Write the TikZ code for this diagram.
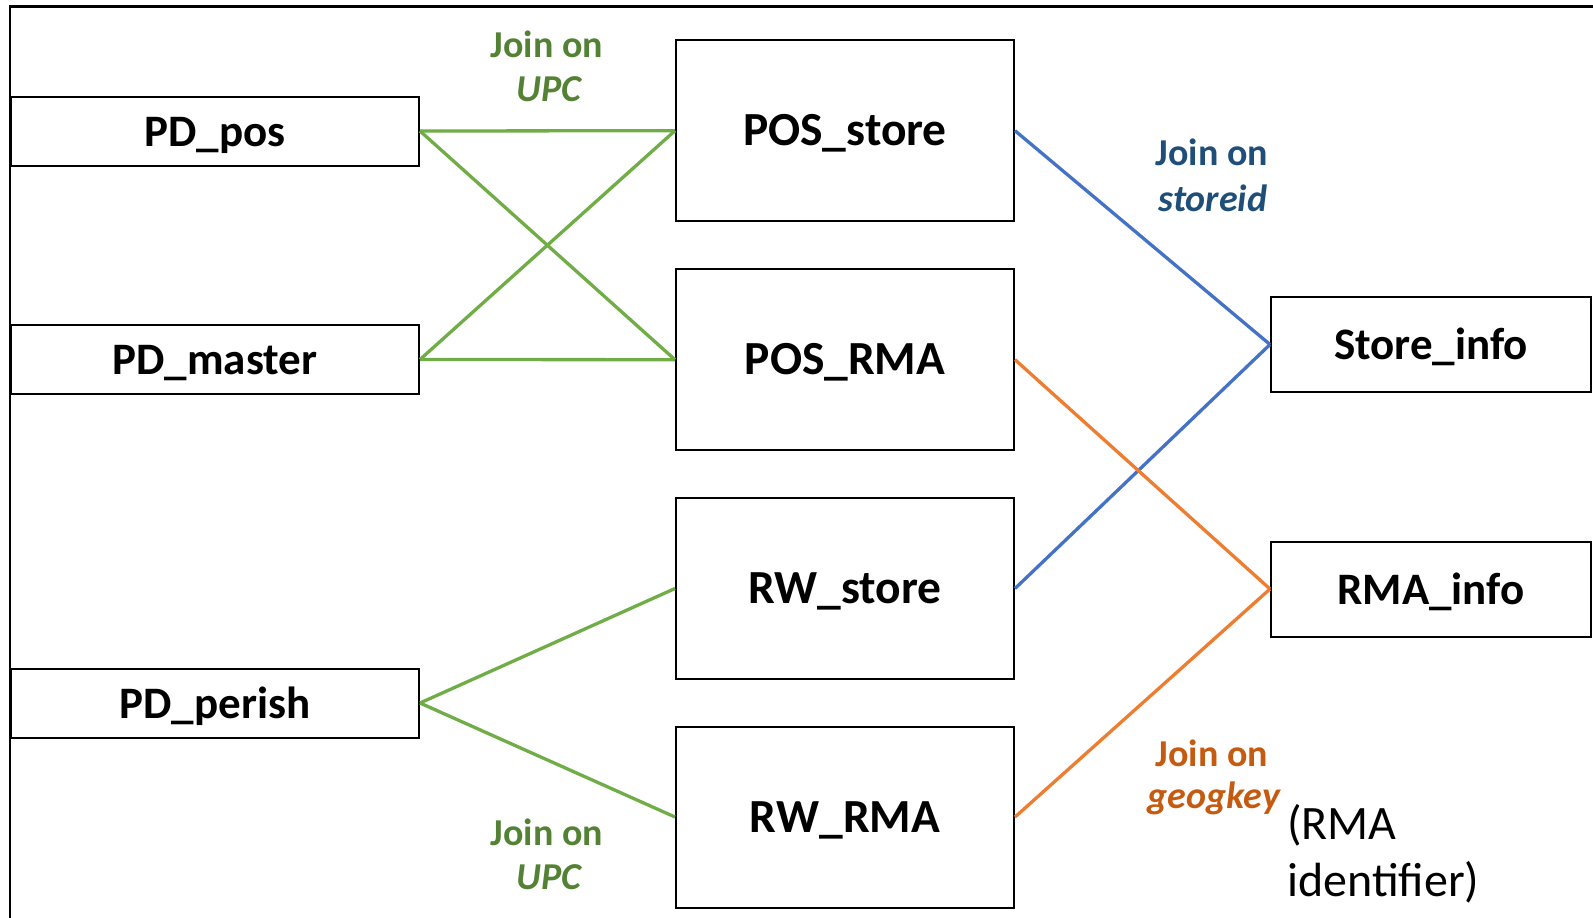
\documentclass[tikz,border=0pt]{standalone}
\usepackage{fontspec}
\setmainfont{Carlito}
\definecolor{gline}{HTML}{70AD47}
\definecolor{gtext}{HTML}{548235}
\definecolor{bline}{HTML}{4472C4}
\definecolor{btext}{HTML}{1F4E79}
\definecolor{oline}{HTML}{ED7D31}
\definecolor{otext}{HTML}{C55A11}
\tikzset{
  tbl/.style={draw=black, line width=2pt, rectangle, inner sep=0pt,
    text height=30pt, text depth=0pt,
    font=\fontsize{45}{54}\selectfont\bfseries},
  leftbox/.style={tbl, minimum width=408pt, minimum height=69pt},
  midbox/.style={tbl, minimum width=338pt, minimum height=181pt,
    font=\fontsize{47.5}{56}\selectfont\bfseries},
  rightbox/.style={tbl, minimum width=320pt, minimum height=95pt},
  conn/.style={line width=3.3pt},
  joinlbl/.style={font=\fontsize{38}{46}\selectfont\bfseries, inner sep=0pt},
}
\begin{document}
\begin{tikzpicture}[x=1pt,y=-1pt]
\useasboundingbox (0,0) rectangle (1593,918);
\begin{scope}
\clip (0,0) rectangle (1593,918);
\draw[line width=2.5pt] (10,6.5) rectangle (1700,1000);
\end{scope}
% left boxes
\node[leftbox] (pdpos) at (215,131) {PD\_pos};
\node[leftbox] (pdmaster) at (215,359.5) {PD\_master};
\node[leftbox] (pdperish) at (215,703) {PD\_perish};
% middle boxes
\node[midbox] (posstore) at (845,130.7) {POS\_store};
\node[midbox] (posrma) at (845,359.7) {POS\_RMA};
\node[midbox] (rwstore) at (845,588.5) {RW\_store};
\node[midbox] (rwrma) at (845,817) {RW\_RMA};
% right boxes
\node[rightbox] (storeinfo) at (1431,344.5) {Store\_info};
\node[rightbox] (rmainfo) at (1431,589) {RMA\_info};
% green connectors
\draw[conn, gline] (pdpos.east) -- (posstore.west);
\draw[conn, gline] (pdpos.east) -- (posrma.west);
\draw[conn, gline] (pdmaster.east) -- (posstore.west);
\draw[conn, gline] (pdmaster.east) -- (posrma.west);
\draw[conn, gline] (pdperish.east) -- (rwstore.west);
\draw[conn, gline] (pdperish.east) -- (rwrma.west);
% blue connectors
\draw[conn, bline] (posstore.east) -- (storeinfo.west);
\draw[conn, bline] (rwstore.east) -- (storeinfo.west);
% orange connectors
\draw[conn, oline] (posrma.east) -- (rmainfo.west);
\draw[conn, oline] (rwrma.east) -- (rmainfo.west);
% labels
\node[joinlbl, text=gtext] (j1a) at (547,44) {Join on};
\node[joinlbl, text=gtext] (j1b) at (549,89) {\itshape UPC};
\node[joinlbl, text=gtext] (j2a) at (547,832) {Join on};
\node[joinlbl, text=gtext] (j2b) at (549,877) {\itshape UPC};
\node[joinlbl, text=btext] (j3a) at (1212,152) {Join on};
\node[joinlbl, text=btext] (j3b) at (1213,198) {\itshape storeid};
\node[joinlbl, text=otext] (j4a) at (1212,753) {Join on};
\node[joinlbl, text=otext] (j4b) at (1214,798) {\itshape geogkey};
\node[anchor=west, align=left, inner sep=0pt, font=\fontsize{48}{57}\selectfont] (rmaid) at (1287,854) {(RMA\\identifier)};
\end{tikzpicture}
\end{document}
